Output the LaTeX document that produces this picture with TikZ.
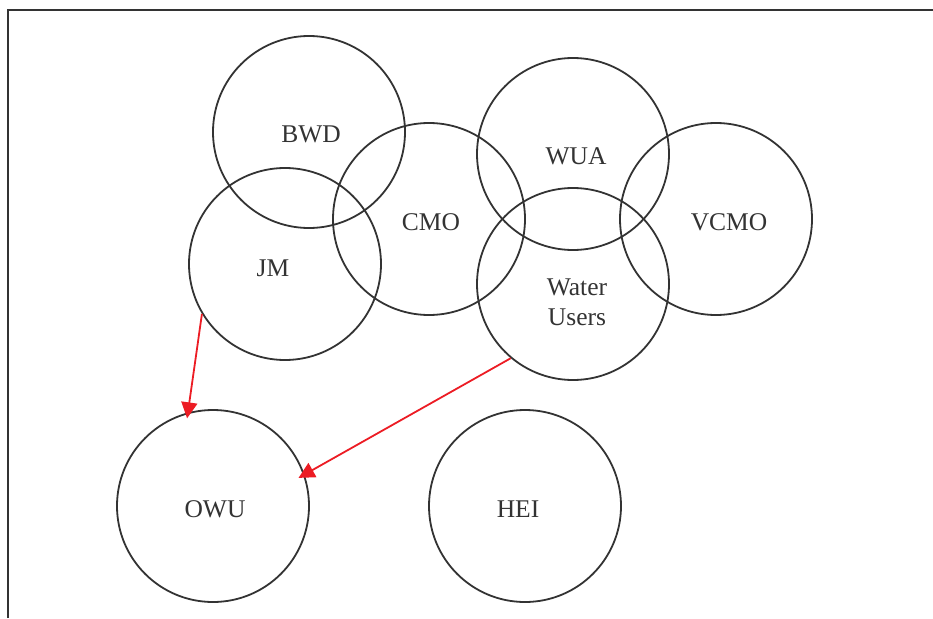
\documentclass[tikz,border=0pt]{standalone}
\usepackage{fontspec}
\setmainfont{Liberation Serif}
\usetikzlibrary{arrows.meta}
\definecolor{ink}{HTML}{333333}
\definecolor{arrowred}{HTML}{EC1C24}
\begin{document}
\begin{tikzpicture}[x=1pt,y=-1pt,
  ring/.style={circle,draw=ink,line width=1.8pt,minimum size=192pt,inner sep=0pt},
  tag/.style={text=ink,font=\fontsize{25.5}{30}\selectfont,align=center,inner sep=0pt},
  link/.style={draw=arrowred,line width=1.8pt,-{Triangle[length=16pt,width=16pt]}}]
\useasboundingbox (0,0) rectangle (933,618);
% open frame: only the top and left edges show
\draw[ink,line width=2pt] (8,618) -- (8,10) -- (933,10);
% circles
\node[ring] (bwd)  at (309,132) {};
\node[ring] (jm)   at (285,264) {};
\node[ring] (cmo)  at (429,219) {};
\node[ring] (wua)  at (573,154) {};
\node[ring] (vcmo) at (716,219) {};
\node[ring] (wu)   at (573,284) {};
\node[ring] (owu)  at (213,506) {};
\node[ring] (hei)  at (525,506) {};
% labels
\node[tag] (bwdt)  at (311,134) {BWD};
\node[tag] (jmt)   at (273,268) {JM};
\node[tag] (cmot)  at (431,222) {CMO};
\node[tag] (wuat)  at (576,156) {WUA};
\node[tag] (vcmot) at (729,222) {VCMO};
\node[tag] (wut)   at (577,302) {Water\\Users};
\node[tag] (owut)  at (215,509) {OWU};
\node[tag] (heit)  at (518,509) {HEI};
% arrows
\draw[link,shorten >=-6pt] (jm.211.5) -- (owu.105);
\draw[link,shorten >=-7pt] (wu.230) -- (owu.19);
\end{tikzpicture}
\end{document}
